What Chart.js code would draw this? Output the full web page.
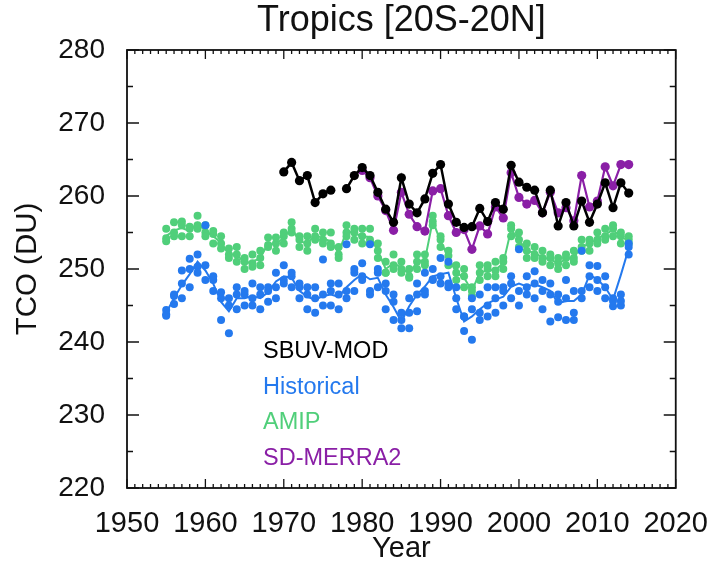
<!DOCTYPE html>
<html>
<head>
<meta charset="utf-8">
<title>Tropics TCO</title>
<script src="https://cdn.jsdelivr.net/npm/chart.js@4/dist/chart.umd.min.js"></script>
<style>
  html, body { margin: 0; padding: 0; background: #fff; }
  #wrap { width: 719px; height: 563px; }
</style>
</head>
<body>
<div id="wrap"><canvas id="tco" width="719" height="563"></canvas></div>
<script>
// Tropical (20S-20N) annual mean total column ozone, DU

const modelYears = [
  1955, 1956, 1957, 1958, 1959, 1960, 1961, 1962, 1963, 1964,
  1965, 1966, 1967, 1968, 1969, 1970, 1971, 1972, 1973, 1974,
  1975, 1976, 1977, 1978, 1979, 1980, 1981, 1982, 1983, 1984,
  1985, 1986, 1987, 1988, 1989, 1990, 1991, 1992, 1993, 1994,
  1995, 1996, 1997, 1998, 1999, 2000, 2001, 2002, 2003, 2004,
  2005, 2006, 2007, 2008, 2009, 2010, 2011, 2012, 2013, 2014
];
const sbuvYears = modelYears.slice(15);   // 1970-2014
const merraYears = modelYears.slice(25);  // 1980-2014

const xTicks = [1950, 1960, 1970, 1980, 1990, 2000, 2010, 2020];
const yTicks = [220, 230, 240, 250, 260, 270, 280];

// SBUV merged observations (no 1977 value)
const sbuv = [
  263.3, 264.6, 262.1, 262.8, 259.1, 260.3, 260.8, null, 261.0, 262.8,
  263.9, 262.8, 260.5, 258.2, 256.4, 262.5, 258.9, 257.7, 259.6, 263.1,
  264.3, 258.9, 256.4, 255.7, 255.8, 258.3, 256.5, 259.1, 258.2, 264.2,
  261.9, 261.2, 260.8, 257.7, 260.8, 255.9, 259.1, 255.9, 259.3, 256.4,
  258.9, 261.8, 258.4, 261.8, 260.4
];

// specified dynamics run nudged to MERRA2
const merra = [
  263.5, 262.5, 260.0, 258.0, 255.3, 260.5, 257.5, 255.8, 255.2, 260.7,
  261.0, 257.3, 255.0, 255.4, 252.7, 255.9, 254.8, 258.5, 257.0, 263.2,
  259.8, 258.9, 259.4, 257.7, 260.5, 257.7, 258.4, 256.6, 262.8, 258.5,
  259.3, 264.0, 261.4, 264.3, 264.3
];

// historical ensemble: mean and members
const histMean = [
  244.0, 246.0, 247.8, 249.3, 251.0, 249.8, 248.0, 245.5, 244.2, 246.0,
  246.0, 246.3, 246.0, 246.8, 248.3, 249.0, 248.8, 247.0, 246.2, 245.8,
  246.3, 246.5, 246.2, 247.5, 248.5, 249.3, 248.6, 248.8, 246.5, 244.8,
  242.8, 244.9, 246.5, 247.6, 249.0, 249.3, 249.5, 246.0, 242.8, 243.5,
  244.5, 245.3, 245.8, 246.2, 247.6, 248.0, 247.6, 247.9, 247.5, 247.0,
  245.3, 245.6, 245.6, 246.5, 249.2, 248.6, 247.5, 245.8, 249.2, 252.8
];
const histRun1 = [
  243.6, 246.5, 249.8, 251.4, 249.5, 256.0, 249.0, 246.8, 241.2, 247.5,
  247.0, 245.0, 247.5, 245.5, 246.0, 250.5, 247.5, 248.0, 244.5, 247.5,
  251.3, 245.0, 248.0, 253.4, 247.0, 250.8, 253.4, 249.5, 244.5, 246.5,
  241.9, 244.0, 248.0, 246.5, 248.6, 251.5, 247.5, 244.5, 241.5, 240.3,
  246.5, 243.5, 247.5, 245.0, 249.0, 252.7, 246.5, 249.7, 244.5, 242.8,
  243.4, 248.5, 244.0, 252.5, 247.5, 250.4, 249.0, 245.6, 245.6, 252.0
];
const histRun2 = [
  244.4, 245.2, 248.0, 247.5, 252.0, 248.5, 247.0, 243.0, 245.0, 244.5,
  245.0, 248.0, 244.5, 247.5, 249.5, 248.0, 249.5, 246.0, 247.5, 244.0,
  245.0, 248.0, 244.5, 246.0, 249.5, 248.5, 246.5, 250.0, 248.0, 243.0,
  244.0, 241.9, 244.2, 249.5, 250.0, 248.0, 251.0, 247.5, 243.5, 244.5,
  243.0, 247.5, 244.0, 247.0, 246.0, 247.0, 249.0, 246.0, 248.5, 246.5,
  246.5, 243.0, 247.0, 246.0, 250.5, 247.0, 246.0, 244.9, 246.5, 253.0
];
const histRun3 = [
  243.8, 246.3, 246.0, 250.0, 250.3, 250.5, 248.5, 246.0, 246.0, 246.5,
  246.5, 246.0, 246.5, 247.0, 247.5, 248.5, 249.0, 247.5, 246.5, 246.0,
  246.5, 247.0, 246.5, 247.0, 250.0, 249.0, 247.0, 247.5, 247.0, 245.5,
  243.0, 246.0, 246.5, 247.0, 248.5, 249.0, 248.0, 246.0, 243.5, 246.0,
  244.0, 245.0, 246.0, 247.5, 248.0, 245.0, 247.5, 248.0, 247.0, 248.0,
  245.5, 246.0, 243.0, 247.0, 249.0, 248.5, 247.5, 246.0, 245.0, 253.5
];

// AMIP ensemble: mean and members
const amipMean = [
  254.5, 255.3, 255.6, 255.2, 256.3, 255.2, 254.5, 253.6, 252.0, 252.0,
  250.8, 251.0, 251.5, 253.5, 253.4, 254.3, 255.6, 253.8, 253.5, 254.7,
  254.2, 253.8, 252.2, 255.2, 254.9, 254.5, 254.4, 252.5, 250.0, 250.8,
  250.2, 249.3, 251.0, 251.2, 256.6, 253.8, 251.6, 249.5, 248.8, 247.0,
  249.5, 249.8, 249.9, 250.8, 255.4, 254.0, 252.5, 252.2, 251.6, 251.3,
  250.8, 251.3, 251.6, 253.1, 253.4, 254.2, 254.7, 255.4, 254.3, 254.0
];
const amipRun1 = [
  255.5, 256.4, 256.0, 254.5, 257.3, 256.0, 253.5, 254.5, 251.5, 253.0,
  250.0, 252.0, 250.5, 254.3, 252.5, 255.0, 256.4, 253.0, 254.5, 255.5,
  253.5, 255.0, 251.5, 256.0, 254.0, 255.5, 255.5, 251.5, 249.5, 252.0,
  249.5, 250.0, 252.0, 250.5, 257.3, 253.0, 252.5, 248.5, 250.0, 246.3,
  250.5, 249.0, 251.0, 250.0, 256.0, 255.0, 251.5, 253.0, 251.0, 252.0,
  250.0, 252.0, 251.0, 254.0, 252.5, 255.0, 254.0, 256.0, 255.0, 254.5
];
const amipRun2 = [
  253.8, 254.5, 256.5, 255.8, 255.5, 254.5, 255.2, 252.8, 252.8, 251.0,
  251.5, 250.3, 252.5, 253.0, 254.3, 253.5, 255.0, 254.5, 252.5, 254.0,
  255.0, 253.0, 253.0, 254.5, 255.5, 253.5, 253.5, 253.5, 251.0, 250.0,
  251.0, 248.8, 250.0, 252.0, 256.0, 254.5, 250.5, 250.5, 247.5, 247.5,
  248.5, 250.5, 249.0, 251.5, 254.5, 253.0, 253.5, 251.5, 252.5, 250.5,
  251.5, 250.5, 252.5, 252.5, 254.0, 253.5, 255.5, 254.5, 253.5, 253.5
];
const amipRun3 = [
  254.2, 255.0, 254.5, 255.5, 256.0, 255.0, 254.8, 253.5, 252.0, 252.0,
  251.0, 250.8, 251.5, 253.3, 253.5, 254.5, 255.5, 254.0, 253.5, 254.5,
  254.0, 253.5, 252.0, 255.0, 255.0, 254.5, 254.0, 252.5, 249.5, 250.5,
  250.0, 249.0, 251.0, 251.0, 256.5, 254.0, 251.8, 249.5, 249.0, 247.0,
  249.5, 250.0, 249.8, 251.0, 255.5, 254.0, 252.5, 252.0, 251.5, 251.5,
  250.8, 251.5, 251.5, 253.0, 253.5, 254.0, 254.5, 255.5, 254.5, 254.0
];

const COL = {
  sbuv: '#000000',
  hist: '#2479ee',
  amip: '#50cf7a',
  merra: '#8a1fa6'
};
const FONT = "'Liberation Sans', Arial, Helvetica, sans-serif";

const pairs = (xs, ys) => xs.map((x, i) => ({ x, y: ys[i] }));

function dots(data, color, order) {
  return {
    data, order,
    showLine: false,
    pointRadius: 4,
    pointBackgroundColor: color,
    pointBorderColor: color,
    pointBorderWidth: 0
  };
}

function series(data, color, order, dotR, width) {
  return {
    data, order,
    borderColor: color,
    borderWidth: width,
    pointRadius: dotR,
    pointBackgroundColor: color,
    pointBorderColor: color,
    pointBorderWidth: 0,
    spanGaps: false,
    tension: 0
  };
}

// box around the plot, inward ticks on all four sides, title and the label list
const frame = {
  id: 'frame',
  afterDatasetsDraw(chart) {
    const { ctx, chartArea: a, scales: { x, y } } = chart;
    ctx.save();
    ctx.strokeStyle = '#111';
    ctx.lineWidth = 1.8;
    ctx.strokeRect(a.left, a.top, a.right - a.left, a.bottom - a.top);

    ctx.lineWidth = 1.3;
    ctx.beginPath();
    for (let yr = x.min; yr <= x.max; yr++) {
      const px = x.getPixelForValue(yr);
      const len = yr % 10 === 0 ? 9 : 4;
      ctx.moveTo(px, a.bottom); ctx.lineTo(px, a.bottom - len);
      ctx.moveTo(px, a.top); ctx.lineTo(px, a.top + len);
    }
    for (let v = y.min; v <= y.max; v += 5) {
      const py = y.getPixelForValue(v);
      const len = v % 10 === 0 ? 12 : 6;
      ctx.moveTo(a.left, py); ctx.lineTo(a.left + len, py);
      ctx.moveTo(a.right, py); ctx.lineTo(a.right - len, py);
    }
    ctx.stroke();

    ctx.font = '23.5px ' + FONT;
    ctx.textBaseline = 'middle';
    ctx.textAlign = 'left';
    const names = [['SBUV-MOD', COL.sbuv], ['Historical', COL.hist], ['AMIP', COL.amip], ['SD-MERRA2', COL.merra]];
    names.forEach(([t, c], i) => {
      ctx.fillStyle = c;
      ctx.fillText(t, a.left + 136, a.top + 302 + i * 35.5);
    });

    ctx.fillStyle = '#111';
    ctx.font = '36px ' + FONT;
    ctx.textAlign = 'center';
    ctx.fillText('Tropics [20S-20N]', (a.left + a.right) / 2, 21);
    ctx.restore();
  }
};

new Chart(document.getElementById('tco'), {
  type: 'line',
  data: {
    datasets: [
      series(pairs(sbuvYears, sbuv), COL.sbuv, 1, 4.6, 2.5),
      series(pairs(merraYears, merra), COL.merra, 2, 4.6, 2.2),
      series(pairs(modelYears, histMean), COL.hist, 3, 0, 2),
      dots(pairs(modelYears, histRun1), COL.hist, 4),
      dots(pairs(modelYears, histRun2), COL.hist, 4),
      dots(pairs(modelYears, histRun3), COL.hist, 4),
      series(pairs(modelYears, amipMean), COL.amip, 5, 0, 2),
      dots(pairs(modelYears, amipRun1), COL.amip, 6),
      dots(pairs(modelYears, amipRun2), COL.amip, 6),
      dots(pairs(modelYears, amipRun3), COL.amip, 6)
    ]
  },
  options: {
    responsive: false,
    animation: false,
    layout: { padding: { top: 50, right: 38, left: 0, bottom: 0 } },
    plugins: {
      legend: { display: false },
      tooltip: { enabled: false }
    },
    scales: {
      x: {
        type: 'linear',
        min: 1950, max: 2020,
        afterBuildTicks: s => { s.ticks = xTicks.map(v => ({ value: v })); },
        afterFit: s => { s.height = 75; },
        grid: { display: false },
        border: { display: false },
        ticks: {
          padding: 11,
          color: '#111',
          font: { family: FONT, size: 29 },
          maxRotation: 0,
          autoSkip: false,
          callback: v => String(v)
        },
        title: {
          display: true,
          text: 'Year',
          color: '#111',
          font: { family: FONT, size: 29, lineHeight: 1.0 },
          padding: { top: 0, bottom: 0 }
        }
      },
      y: {
        min: 220, max: 280,
        afterBuildTicks: s => { s.ticks = yTicks.map(v => ({ value: v })); },
        afterFit: s => { s.width = 127; },
        grid: { display: false },
        border: { display: false },
        ticks: {
          padding: 14,
          color: '#111',
          font: { family: FONT, size: 28 }
        },
        title: {
          display: true,
          text: 'TCO (DU)',
          color: '#111',
          font: { family: FONT, size: 29.5 },
          padding: { top: 10, bottom: 0 }
        }
      }
    }
  },
  plugins: [frame]
});
</script>
</body>
</html>
